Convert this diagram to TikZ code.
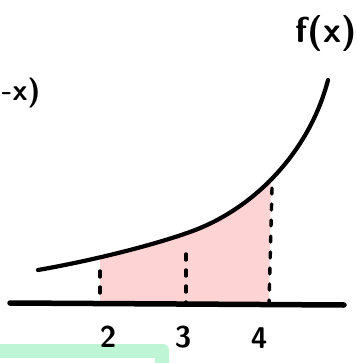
\documentclass[tikz,border=0pt]{standalone}
\usepackage{fontspec}
\usepackage{tikz}
\usetikzlibrary{positioning, calc}

\definecolor{areapink}{RGB}{253,211,211}
\definecolor{boxgreen}{RGB}{190,246,213}

\begin{document}
\begin{tikzpicture}[x=1pt, y=-1pt, line cap=round,
    curve/.style={line width=4.2pt},
    drop/.style={line width=3.4pt, dash pattern=on 6pt off 10pt},
    lbl/.style={font=\fontsize{30}{32}\selectfont\sffamily\bfseries}]
    \useasboundingbox (0,0) rectangle (356,363);
    \clip (0,0) rectangle (356,363);

    \coordinate (S) at (38,270);
    \coordinate (E) at (328,80);
    \coordinate (L) at (10,303);
    \coordinate (R) at (344,305);
    \coordinate (A) at (100,259);
    \coordinate (B) at (186,234);
    \coordinate (C) at (272,180);
    \coordinate (A0) at (100,303);
    \coordinate (B0) at (186,303);
    \coordinate (C0) at (269,304);

  % shaded area between 2 and 4
    \begin{scope}
      \clip (A0) -- (100,0) -- (274,0) -- (C0) -- cycle;
      \fill[areapink] (S) .. controls (90,261) and (150,246) .. (187,233)
          .. controls (255,210) and (310,150) .. (E) -- (340,310) -- (0,310) -- cycle;
    \end{scope}

  % green box at the bottom (cut off)
    \fill[boxgreen, rounded corners=6pt] (-10,344) rectangle (169,380);
    \fill[white] (-1,358) rectangle (155,370);

  % the curve
    \draw[curve] (S) .. controls (90,261) and (150,246) .. (187,233)
        .. controls (255,210) and (310,150) .. (E);

  % axis
    \draw[line width=5.5pt] (L) -- (R);

  % dashed drops
    \draw[drop] (A) ++(0,12) -- (A0);
    \draw[drop] (B) ++(0,20) -- (B0);
    \draw[drop] (C) ++(0,8) -- (C0);

    \node[lbl] (two) at (108,337) {2};
    \node[lbl] (three) at (183,337) {3};
    \node[lbl] (four) at (259,338) {4};

    \node[lbl, font=\fontsize{36}{38}\selectfont\sffamily\bfseries, anchor=east] (fx) at (360,34) {f(x)};
    \node[lbl, anchor=west] (negx) at (-2,93) {-x)};

\end{tikzpicture}
\end{document}
